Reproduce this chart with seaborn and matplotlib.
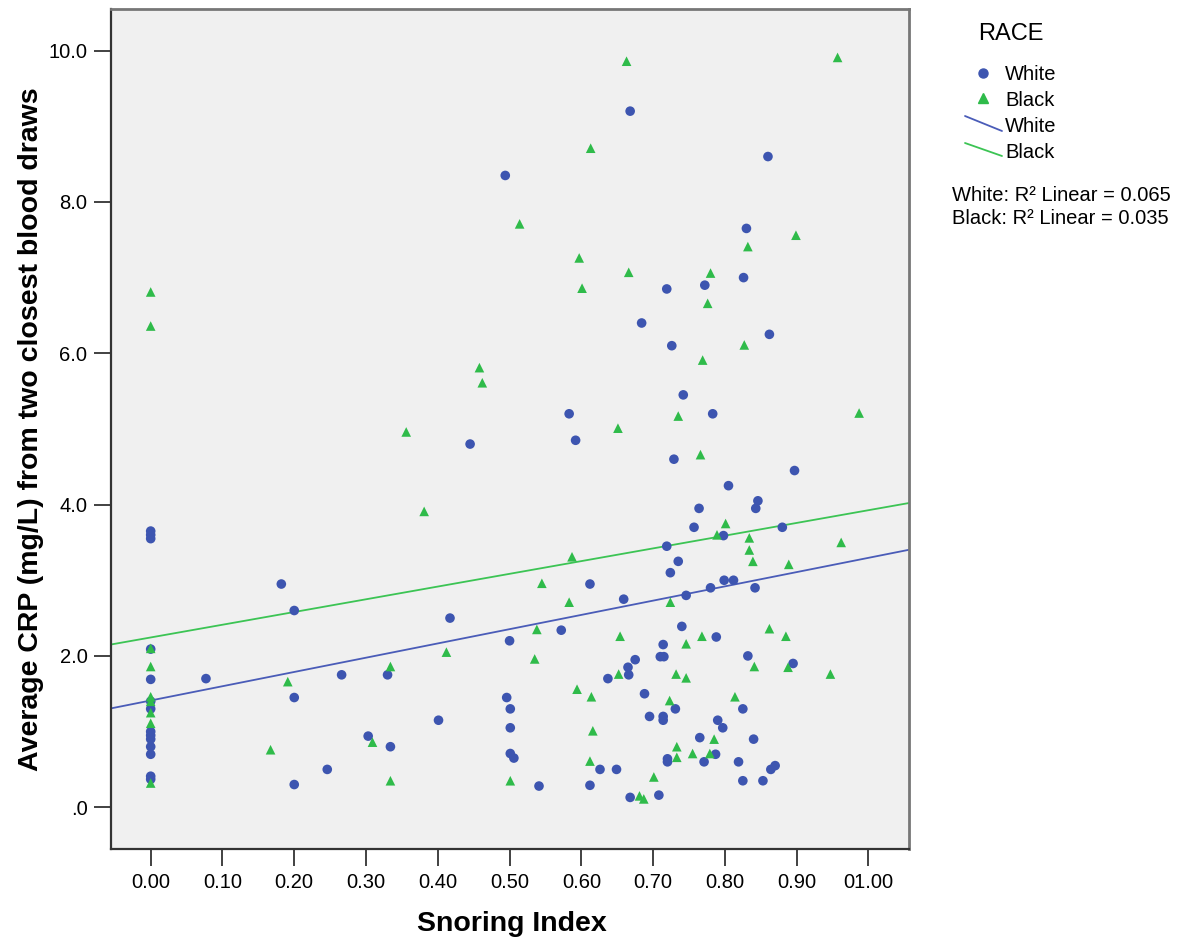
import matplotlib
matplotlib.use("Agg")
import matplotlib.pyplot as plt
from matplotlib.lines import Line2D
import seaborn as sns
import numpy as np
import pandas as pd

# values
white_x = [0.0, 0.0, 0.0, 0.0, 0.0, 0.0, 0.0, 0.0, 0.0, 0.0, 0.0, 0.0, 0.0, 0.0,
           0.077, 0.182, 0.200, 0.200, 0.200, 0.246, 0.266, 0.303, 0.330, 0.334,
           0.401, 0.417, 0.445, 0.494, 0.496, 0.500, 0.501, 0.501, 0.501, 0.506,
           0.541, 0.572, 0.583, 0.592, 0.612, 0.612, 0.626, 0.637, 0.649, 0.659,
           0.665, 0.666, 0.668, 0.668, 0.675, 0.684, 0.688, 0.695, 0.708, 0.710,
           0.715, 0.714, 0.714, 0.714, 0.719, 0.719, 0.720, 0.720, 0.724, 0.726,
           0.729, 0.731, 0.735, 0.740, 0.742, 0.746, 0.757, 0.764, 0.765, 0.771,
           0.772, 0.780, 0.783, 0.787, 0.788, 0.790, 0.797, 0.798, 0.799, 0.805,
           0.812, 0.819, 0.825, 0.825, 0.826, 0.830, 0.832, 0.840, 0.842, 0.843,
           0.846, 0.853, 0.860, 0.862, 0.864, 0.870, 0.880, 0.895, 0.897]
white_y = [3.65, 3.60, 3.55, 2.09, 1.69, 1.40, 1.30, 1.00, 0.95, 0.90, 0.80, 0.70, 0.41, 0.37,
           1.70, 2.95, 2.60, 1.45, 0.30, 0.50, 1.75, 0.94, 1.75, 0.80,
           1.15, 2.50, 4.80, 8.35, 1.45, 2.20, 1.30, 1.05, 0.71, 0.65,
           0.28, 2.34, 5.20, 4.85, 2.95, 0.29, 0.50, 1.70, 0.50, 2.75,
           1.85, 1.75, 9.20, 0.13, 1.95, 6.40, 1.50, 1.20, 0.16, 1.99,
           1.99, 2.15, 1.20, 1.15, 6.85, 3.45, 0.64, 0.60, 3.10, 6.10,
           4.60, 1.30, 3.25, 2.39, 5.45, 2.80, 3.70, 3.95, 0.92, 0.60,
           6.90, 2.90, 5.20, 0.70, 2.25, 1.15, 1.05, 3.59, 3.00, 4.25,
           3.00, 0.60, 1.30, 0.35, 7.00, 7.65, 2.00, 0.90, 2.90, 3.95,
           4.05, 0.35, 8.60, 6.25, 0.50, 0.55, 3.70, 1.90, 4.45]

black_x = [0.0, 0.0, 0.0, 0.0, 0.0, 0.0, 0.0, 0.0, 0.0,
           0.167, 0.191, 0.309, 0.334, 0.334, 0.356, 0.381, 0.412, 0.458, 0.462,
           0.501, 0.514, 0.535, 0.538, 0.545, 0.583, 0.587, 0.594, 0.597, 0.601,
           0.612, 0.613, 0.614, 0.616, 0.651, 0.652, 0.654, 0.663, 0.666, 0.681,
           0.687, 0.701, 0.723, 0.724, 0.732, 0.733, 0.733, 0.735, 0.746, 0.746,
           0.755, 0.766, 0.768, 0.769, 0.776, 0.779, 0.780, 0.785, 0.789, 0.801,
           0.814, 0.827, 0.832, 0.834, 0.834, 0.839, 0.841, 0.862, 0.885, 0.888,
           0.889, 0.899, 0.947, 0.957, 0.962, 0.987]
black_y = [6.81, 6.36, 2.10, 1.86, 1.46, 1.40, 1.25, 1.11, 0.32,
           0.76, 1.66, 0.86, 1.86, 0.35, 4.96, 3.91, 2.05, 5.81, 5.61,
           0.35, 7.71, 1.96, 2.35, 2.96, 2.71, 3.31, 1.56, 7.26, 6.86,
           0.61, 8.71, 1.46, 1.01, 5.01, 1.76, 2.26, 9.86, 7.07, 0.15,
           0.11, 0.40, 1.41, 2.71, 1.76, 0.80, 0.66, 5.17, 2.16, 1.71,
           0.71, 4.66, 2.26, 5.91, 6.66, 0.71, 7.06, 0.90, 3.60, 3.75,
           1.46, 6.11, 7.41, 3.56, 3.40, 3.25, 1.86, 2.36, 2.26, 1.85,
           3.21, 7.56, 1.76, 9.91, 3.50, 5.21]

races = ["White", "Black"]
r2_labels = ["White: R\u00b2 Linear = 0.065", "Black: R\u00b2 Linear = 0.035"]
x_ticks = [0.0, 0.1, 0.2, 0.3, 0.4, 0.5, 0.6, 0.7, 0.8, 0.9, 1.0]
x_tick_labels = ["0.00", "0.10", "0.20", "0.30", "0.40", "0.50",
                 "0.60", "0.70", "0.80", "0.90", "01.00"]
y_ticks = [0, 2, 4, 6, 8, 10]
y_tick_labels = [".0", "2.0", "4.0", "6.0", "8.0", "10.0"]

df = pd.DataFrame({
    "snore": white_x + black_x,
    "crp": white_y + black_y,
    "race": ["White"] * len(white_x) + ["Black"] * len(black_x),
})

colors = {"White": "#3d55b0", "Black": "#2fbb4a"}
line_colors = {"White": "#4a5cb8", "Black": "#3cc454"}
markers = {"White": "o", "Black": "^"}

sns.set_style("white")
plt.rcParams["font.family"] = ["Liberation Sans", "DejaVu Sans"]
plt.rcParams["text.color"] = "black"

W, H = 1183, 942
fig = plt.figure(figsize=(W / 100, H / 100), dpi=100)
ax = fig.add_axes([111 / W, 1 - 849 / H, (909 - 111) / W, (849 - 9) / H])
ax.set_facecolor("#f0f0f0")

# limits first, so the fit lines run across the whole plot area
ax.set_xlim(-0.0553, 1.0565)
ax.set_ylim(-0.552, 10.55)

sns.scatterplot(data=df, x="snore", y="crp", hue="race", style="race",
                palette=colors, markers=markers, s=48, linewidth=0,
                legend=False, ax=ax, zorder=3)

for race in races:
    sub = df[df["race"] == race]
    sns.regplot(data=sub, x="snore", y="crp", scatter=False, ci=None,
                truncate=False, ax=ax,
                line_kws={"color": line_colors[race], "lw": 1.3, "zorder": 2})

ax.set_xlim(-0.0553, 1.0565)
ax.set_ylim(-0.552, 10.55)
ax.set_xticks(x_ticks)
ax.set_xticklabels(x_tick_labels)
ax.set_yticks(y_ticks)
ax.set_yticklabels(y_tick_labels)
ax.tick_params(axis="both", direction="out", length=12, width=1.3,
               color="#333333", labelsize=14.5, labelcolor="black", pad=5,
               bottom=True, left=True)

for side in ["left", "bottom"]:
    ax.spines[side].set_color("#333333")
    ax.spines[side].set_linewidth(1.6)
for side in ["top", "right"]:
    ax.spines[side].set_color("#777777")
    ax.spines[side].set_linewidth(2.0)

ax.set_xlabel("Snoring Index", fontsize=20.5, fontweight="bold", color="black")
ax.set_ylabel("Average CRP (mg/L) from two closest blood draws",
              fontsize=20.5, fontweight="bold", color="black")
ax.xaxis.set_label_coords(0.5025, (849 - 911) / 840)
ax.yaxis.set_label_coords((44 - 111) / 798, 0.5)

# legend drawn on the right, like the SPSS output
def fx(px):
    return px / W

def fy(py):
    return 1 - py / H

fig.text(fx(978), fy(34), "RACE", fontsize=17, va="center", ha="left")
fig.add_artist(Line2D([fx(983)], [fy(72.5)], marker="o", color=colors["White"],
                      markersize=6.5, linestyle="none", transform=fig.transFigure))
fig.text(fx(1005), fy(75), "White", fontsize=14.5, va="center", ha="left")
fig.add_artist(Line2D([fx(983)], [fy(98)], marker="^", color=colors["Black"],
                      markersize=6.5, linestyle="none", transform=fig.transFigure))
fig.text(fx(1005), fy(100), "Black", fontsize=14.5, va="center", ha="left")
fig.add_artist(Line2D([fx(965), fx(1002)], [fy(116), fy(131)],
                      color=line_colors["White"], lw=1.3, transform=fig.transFigure))
fig.text(fx(1005), fy(127), "White", fontsize=14.5, va="center", ha="left")
fig.add_artist(Line2D([fx(965), fx(1002)], [fy(143), fy(156)],
                      color=line_colors["Black"], lw=1.3, transform=fig.transFigure))
fig.text(fx(1005), fy(153), "Black", fontsize=14.5, va="center", ha="left")
fig.text(fx(952), fy(195), r2_labels[0], fontsize=14.5, va="center", ha="left")
fig.text(fx(952), fy(218), r2_labels[1], fontsize=14.5, va="center", ha="left")

fig.savefig("out.png", dpi=100, facecolor="white")
